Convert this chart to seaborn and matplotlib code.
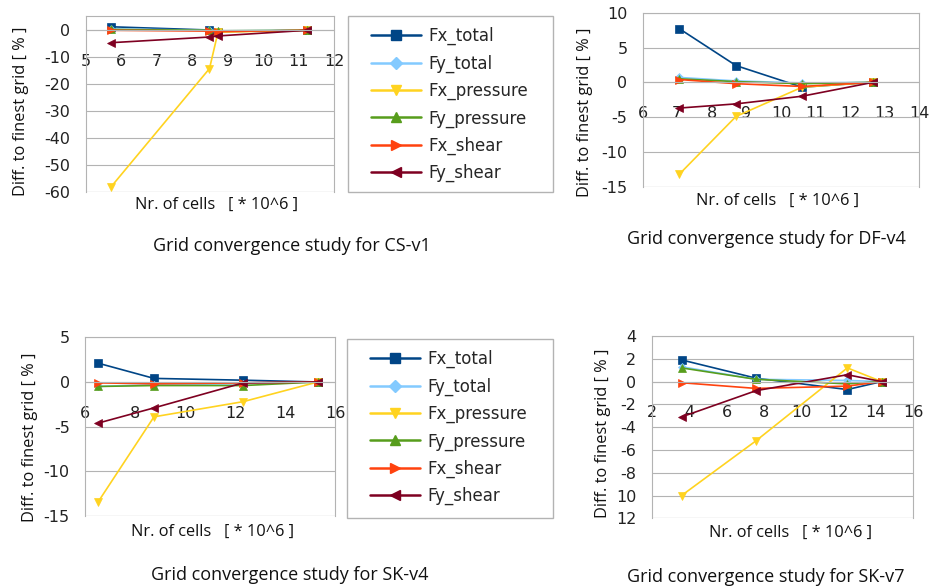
import matplotlib
matplotlib.use("Agg")
import matplotlib.pyplot as plt
import numpy as np
import pandas as pd
import seaborn as sns
from matplotlib.lines import Line2D
from matplotlib.patches import Rectangle

# ---------------- data ----------------
series = ["Fx_total", "Fy_total", "Fx_pressure", "Fy_pressure", "Fx_shear", "Fy_shear"]

cs_x = [5.72, 8.49, 8.73, 11.24]
cs_fx_total = [1.3, 0.1, -0.5, 0.0]
cs_fy_total = [0.5, 0.0, -0.2, 0.0]
cs_fx_pressure = [-58.0, -14.2, -0.7, 0.0]
cs_fy_pressure = [0.3, 0.0, -0.2, 0.0]
cs_fx_shear = [0.0, -0.3, -0.5, 0.0]
cs_fy_shear = [-4.6, -2.5, -2.1, 0.0]

df_x = [7.06, 8.70, 10.61, 12.67]
df_fx_total = [7.7, 2.4, -0.7, 0.0]
df_fy_total = [0.7, 0.2, -0.1, 0.0]
df_fx_pressure = [-13.2, -4.9, -0.7, 0.0]
df_fy_pressure = [0.5, 0.1, -0.2, 0.0]
df_fx_shear = [0.4, -0.2, -0.6, 0.0]
df_fy_shear = [-3.7, -3.1, -2.0, 0.0]

sk4_x = [6.53, 8.76, 12.33, 15.31]
sk4_fx_total = [2.1, 0.4, 0.2, 0.0]
sk4_fy_total = [-0.5, -0.3, -0.2, 0.0]
sk4_fx_pressure = [-13.4, -3.9, -2.2, 0.0]
sk4_fy_pressure = [-0.5, -0.4, -0.4, 0.0]
sk4_fx_shear = [-0.1, -0.2, -0.1, 0.0]
sk4_fy_shear = [-4.6, -2.9, -0.1, 0.0]

sk7_x = [3.60, 7.58, 12.47, 14.31]
sk7_fx_total = [1.9, 0.3, -0.7, 0.0]
sk7_fy_total = [1.3, 0.2, 0.1, 0.0]
sk7_fx_pressure = [-10.0, -5.2, 1.2, 0.0]
sk7_fy_pressure = [1.2, 0.2, -0.2, 0.0]
sk7_fx_shear = [-0.1, -0.6, -0.4, 0.0]
sk7_fy_shear = [-3.1, -0.8, 0.6, 0.0]

titles = ["Grid convergence study for CS-v1", "Grid convergence study for DF-v4",
          "Grid convergence study for SK-v4", "Grid convergence study for SK-v7"]
xlabel_text = "Nr. of cells   [ * 10^6 ]"
ylabel_text = "Diff. to finest grid [ % ]"

cs_xticks = [5, 6, 7, 8, 9, 10, 11, 12]
cs_yticks = [0, -10, -20, -30, -40, -50, -60]
df_xticks = [6, 7, 8, 9, 10, 11, 12, 13, 14]
df_yticks = [10, 5, 0, -5, -10, -15]
sk4_xticks = [6, 8, 10, 12, 14, 16]
sk4_yticks = [5, 0, -5, -10, -15]
sk7_xticks = [2, 4, 6, 8, 10, 12, 14, 16]
sk7_yticks = [4, 2, 0, -2, -4, -6, -8, -10, -12]
sk7_yticklabels = ["4", "2", "0", "-2", "-4", "-6", "-8", "10", "12"]

colors = {"Fx_total": "#004586", "Fy_total": "#83CAFF", "Fx_pressure": "#FFD320",
          "Fy_pressure": "#579D1C", "Fx_shear": "#FF420E", "Fy_shear": "#7E0021"}
markers = {"Fx_total": "s", "Fy_total": "D", "Fx_pressure": "v",
           "Fy_pressure": "^", "Fx_shear": ">", "Fy_shear": "<"}
msizes = {"Fx_total": 6, "Fy_total": 4.5, "Fx_pressure": 5.5,
          "Fy_pressure": 5.5, "Fx_shear": 5.5, "Fy_shear": 5.5}


def long_df(x, vals):
    rows = []
    for name, v in zip(series, vals):
        for xi, yi in zip(x, v):
            rows.append({"x": xi, "y": yi, "series": name})
    return pd.DataFrame(rows)


datasets = [
    (cs_x, [cs_fx_total, cs_fy_total, cs_fx_pressure, cs_fy_pressure, cs_fx_shear, cs_fy_shear]),
    (df_x, [df_fx_total, df_fy_total, df_fx_pressure, df_fy_pressure, df_fx_shear, df_fy_shear]),
    (sk4_x, [sk4_fx_total, sk4_fy_total, sk4_fx_pressure, sk4_fy_pressure, sk4_fx_shear, sk4_fy_shear]),
    (sk7_x, [sk7_fx_total, sk7_fy_total, sk7_fx_pressure, sk7_fy_pressure, sk7_fx_shear, sk7_fy_shear]),
]

sns.set_style("white")
plt.rcParams["font.family"] = ["DejaVu Sans"]
plt.rcParams["axes.unicode_minus"] = False

W, H = 930, 586
fig = plt.figure(figsize=(W / 100, H / 100), dpi=100)


def px_axes(left, top, right, bottom):
    return fig.add_axes([left / W, 1 - bottom / H, (right - left) / W, (bottom - top) / H])


boxes = [(85.7, 16, 334, 192), (642.7, 12.7, 919.3, 186.7),
         (85, 337.3, 335, 516), (651.7, 336, 913.3, 518.3)]
xlims = [(5, 12), (6, 14), (6, 16), (2, 16)]
ylims = [(-60, 5.3), (-15, 10), (-15, 5), (-12, 4)]
xticks_all = [cs_xticks, df_xticks, sk4_xticks, sk7_xticks]
yticks_all = [cs_yticks, df_yticks, sk4_yticks, sk7_yticks]
title_pos = [(292, 246), (766, 239), (290, 575), (766, 577)]
xlabel_pos = [(217, 205), (778, 201), (213, 532), (791, 533)]
ylabel_pos = [(21, 111), (585, 112), (30, 437), (603, 433)]

grid_c = "#b3b3b3"
label_font = ["Open Sans", "DejaVu Sans"]

for i, (x, vals) in enumerate(datasets):
    ax = px_axes(*boxes[i])
    d = long_df(x, vals)
    for name in series:
        sub = d[d["series"] == name]
        sns.lineplot(data=sub, x="x", y="y", ax=ax, color=colors[name],
                     marker=markers[name], markersize=msizes[name],
                     markeredgecolor=colors[name], markeredgewidth=0.5,
                     linewidth=1.2, estimator=None, sort=False, legend=False)
    ax.set_xlim(*xlims[i])
    ax.set_ylim(*ylims[i])
    ax.set_xticks(xticks_all[i])
    ax.set_yticks(yticks_all[i])
    if i == 3:
        ax.set_yticklabels(sk7_yticklabels)
    ax.set_xlabel("")
    ax.set_ylabel("")
    ax.yaxis.grid(True, color=grid_c, linewidth=0.8)
    ax.set_axisbelow(True)
    for s in ["left", "right", "top", "bottom"]:
        ax.spines[s].set_color(grid_c)
        ax.spines[s].set_linewidth(0.8)
        ax.spines[s].set_visible(True)
    ax.spines["bottom"].set_position(("data", 0))
    ax.tick_params(axis="x", length=4, width=0.8, color=grid_c, pad=13,
                   labelsize=11.5, labelcolor="#222222", direction="out")
    ax.tick_params(axis="y", length=0, pad=11, labelsize=11.5, labelcolor="#222222")
    ax.axhline(ylims[i][0], color=grid_c, linewidth=0.8)

    tx, ty = title_pos[i]
    fig.text(tx / W, 1 - ty / H, titles[i], ha="center", va="center",
             fontsize=13, family=label_font, color="#111111")
    lx, ly = xlabel_pos[i]
    fig.text(lx / W, 1 - ly / H, xlabel_text, ha="center", va="center",
             fontsize=11.8, family=label_font, color="#111111")
    yx, yy = ylabel_pos[i]
    fig.text(yx / W, 1 - yy / H, ylabel_text, ha="center", va="center",
             rotation=90, fontsize=11.8, family=label_font, color="#111111")

# legends
handles = [Line2D([0], [0], color=colors[n], marker=markers[n],
                  markersize=msizes[n] + 1.5, markeredgecolor=colors[n],
                  linewidth=1.8) for n in series]

for (l, t, r, b) in [(348, 16, 553, 192), (347, 339, 553, 518)]:
    fig.patches.append(Rectangle((l / W, 1 - b / H), (r - l) / W, (b - t) / H,
                                 transform=fig.transFigure, fill=False,
                                 edgecolor=grid_c, linewidth=1.0))
    fig.legend(handles, series, loc="upper left",
               bbox_to_anchor=((l + 18) / W, 1 - (t + 6) / H),
               frameon=False, fontsize=12, handlelength=3.0,
               handletextpad=0.45, labelspacing=0.55, borderaxespad=0,
               borderpad=0.3)

fig.savefig("out.png", dpi=100, facecolor="white")
